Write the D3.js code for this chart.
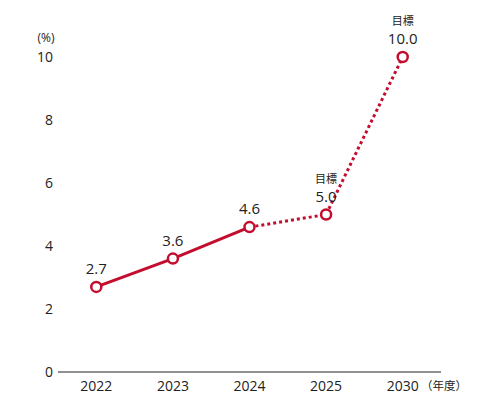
<!DOCTYPE html>
<html>
<head>
<meta charset="utf-8">
<script src="https://cdn.jsdelivr.net/npm/d3@7"></script>
<style>
  body { margin: 0; background: #fff; }
  text { font-family: "Open Sans", "Noto Sans CJK JP", sans-serif; fill: #222; }
</style>
</head>
<body>
<script>
// data
const years = ['2022', '2023', '2024', '2025', '2030'];
const values = [2.7, 3.6, 4.6, 5.0, 10.0];
const targetFlags = [false, false, false, true, true]; // 目標
const yTicks = [0, 2, 4, 6, 8, 10];

const red = '#c30d2e';

const svg = d3.select('body').append('svg')
  .attr('width', 500)
  .attr('height', 402);

const x = d3.scaleBand().domain(years).range([58, 441]).padding(0);
const y = d3.scaleLinear().domain([0, 10]).range([372, 57]);
const cx = d => x(d) + x.bandwidth() / 2;

// x axis line
svg.append('line')
  .attr('x1', 58).attr('x2', 441)
  .attr('y1', y(0)).attr('y2', y(0))
  .attr('stroke', '#222').attr('stroke-width', 1);

// y tick labels (no axis line)
svg.selectAll('text.ytick')
  .data(yTicks)
  .enter().append('text')
  .attr('class', 'ytick')
  .attr('x', d => d === 10 ? 45 : 49)
  .attr('y', d => y(d) + 5)
  .attr('text-anchor', 'middle')
  .style('font-size', '14px')
  .text(d => d);

svg.append('text')
  .attr('x', 46).attr('y', 42)
  .attr('text-anchor', 'middle')
  .style('font-size', '12px')
  .text('(%)');

// x tick labels
svg.selectAll('text.xtick')
  .data(years)
  .enter().append('text')
  .attr('class', 'xtick')
  .attr('x', d => cx(d))
  .attr('y', 391)
  .attr('text-anchor', 'middle')
  .style('font-size', '14px')
  .text(d => d);

svg.append('text')
  .attr('x', 444).attr('y', 390)
  .attr('text-anchor', 'middle')
  .style('font-family', '"Noto Sans CJK JP", sans-serif')
  .style('font-size', '11.5px')
  .text('（年度）');

const pts = years.map((yr, i) => ({ yr: yr, v: values[i], target: targetFlags[i] }));

const line = d3.line()
  .x(d => cx(d.yr))
  .y(d => y(d.v));

// actual (solid)
svg.append('path')
  .attr('fill', 'none')
  .attr('stroke', red)
  .attr('stroke-width', 3)
  .attr('d', line(pts.slice(0, 3)));

// target (dotted)
svg.append('path')
  .attr('fill', 'none')
  .attr('stroke', red)
  .attr('stroke-width', 3)
  .attr('stroke-dasharray', '3,3')
  .attr('d', line(pts.slice(2)));

// markers
svg.selectAll('circle.pt')
  .data(pts)
  .enter().append('circle')
  .attr('class', 'pt')
  .attr('cx', d => cx(d.yr))
  .attr('cy', d => y(d.v))
  .attr('r', 5)
  .attr('fill', '#fff')
  .attr('stroke', red)
  .attr('stroke-width', 2.5);

// value labels
svg.selectAll('text.val')
  .data(pts)
  .enter().append('text')
  .attr('class', 'val')
  .attr('x', d => cx(d.yr))
  .attr('y', d => y(d.v) - 13)
  .attr('text-anchor', 'middle')
  .style('font-size', '15px')
  .text(d => d.v.toFixed(1));

svg.selectAll('text.tgt')
  .data(pts.filter(d => d.target))
  .enter().append('text')
  .attr('class', 'tgt')
  .attr('x', d => cx(d.yr))
  .attr('y', d => y(d.v) - 32)
  .attr('text-anchor', 'middle')
  .style('font-family', '"Noto Sans CJK JP", sans-serif')
  .style('font-size', '11px')
  .text('目標');
</script>
</body>
</html>
